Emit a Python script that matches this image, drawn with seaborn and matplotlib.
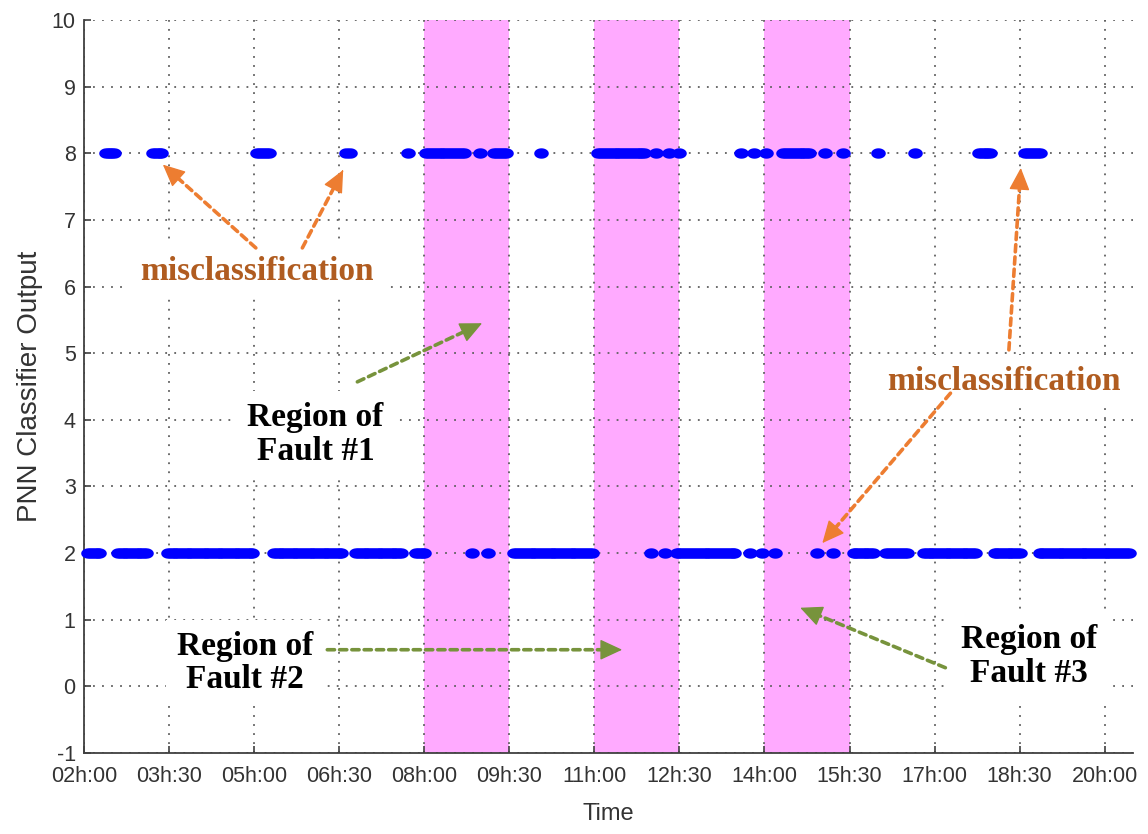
import numpy as np
import pandas as pd
import matplotlib
matplotlib.use("Agg")
import matplotlib.pyplot as plt
from matplotlib import font_manager
import seaborn as sns

# ---- data -------------------------------------------------------------
# sampling interval of the classifier output (hours)
SAMPLE_STEP = 0.05

# runs of consecutive samples (start hour, end hour) for each classifier output
runs_class8 = [(2.39, 2.53), (3.22, 3.36), (5.05, 5.27), (6.62, 6.69), (7.71, 7.71),
               (8.03, 8.70), (8.99, 8.99), (9.23, 9.45), (10.06, 10.06), (11.07, 11.88),
               (12.09, 12.09), (12.31, 12.31), (12.50, 12.50), (13.59, 13.59),
               (13.82, 13.82), (14.03, 14.03), (14.33, 14.79), (15.06, 15.06),
               (15.39, 15.39), (16.01, 16.01), (16.66, 16.66), (17.79, 17.97),
               (18.59, 18.85)]
runs_class2 = [(2.07, 2.27), (2.60, 3.09), (3.48, 4.97), (5.35, 6.54), (6.80, 7.59),
               (7.86, 8.00), (8.85, 8.85), (9.13, 9.13), (9.59, 10.95), (11.99, 11.99),
               (12.24, 12.24), (12.45, 13.47), (13.74, 13.74), (13.96, 13.96),
               (14.18, 14.18), (14.92, 14.92), (15.20, 15.20), (15.57, 15.91),
               (16.15, 16.52), (16.81, 17.71), (18.06, 18.50), (18.85, 20.42)]

# fault intervals (start hour, end hour)
fault_regions = [(8.0, 9.5), (11.0, 12.5), (14.0, 15.5)]

x_ticks = [2.0, 3.5, 5.0, 6.5, 8.0, 9.5, 11.0, 12.5, 14.0, 15.5, 17.0, 18.5, 20.0]
y_ticks = list(range(-1, 11))


def expand(runs, value):
    rows = []
    for start, end in runs:
        n = int(round((end - start) / SAMPLE_STEP)) + 1
        for t in np.linspace(start, end, n):
            rows.append((t, value))
    return rows


samples = pd.DataFrame(expand(runs_class8, 8) + expand(runs_class2, 2),
                       columns=["hour", "output"]).sort_values("hour")


def hour_label(h):
    hh = int(h)
    mm = int(round((h - hh) * 60))
    return f"{hh:02d}h:{mm:02d}"


# ---- style ------------------------------------------------------------
sns.set_style("ticks")


def pick_font(names):
    for n in names:
        try:
            font_manager.findfont(n, fallback_to_default=False)
            return n
        except Exception:
            continue
    return "DejaVu Sans"


sans = pick_font(["Liberation Sans Narrow", "Liberation Sans", "DejaVu Sans"])
serif = pick_font(["Liberation Serif", "DejaVu Serif"])
plt.rcParams["font.family"] = [sans, "DejaVu Sans"]
plt.rcParams["axes.unicode_minus"] = False

fig = plt.figure(figsize=(11.48, 8.34), dpi=100)
ax = fig.add_axes([0.0732, 0.0971, 0.9138, 0.8789])

for a, b in fault_regions:
    ax.axvspan(a, b, color="#FFAAFF", lw=0, zorder=1)

theta = np.linspace(0, 2 * np.pi, 48)
ellipse = list(zip(1.4 * np.cos(theta), np.sin(theta)))

sns.scatterplot(data=samples, x="hour", y="output", marker=ellipse, s=110,
                color="#0000FF", linewidth=0, ax=ax, zorder=3, clip_on=False,
                legend=False)

ax.set_xlim(2.0, 20.5)
ax.set_ylim(-1, 10)
ax.set_xticks(x_ticks)
ax.set_xticklabels([hour_label(h) for h in x_ticks])
ax.set_yticks(y_ticks)

ax.set_axisbelow("line")
ax.grid(True, color="#606060", linestyle=(0, (1, 4)), linewidth=1.3)

for s in ["top", "right"]:
    ax.spines[s].set_visible(False)
for s in ["left", "bottom"]:
    ax.spines[s].set_color("#404040")
    ax.spines[s].set_linewidth(1.3)

ax.tick_params(direction="in", length=5, width=1.2, color="#404040",
               labelsize=15.5, labelcolor="#333333")
ax.tick_params(axis="x", pad=9)
ax.tick_params(axis="y", pad=6)
ax.set_xlabel("Time", fontsize=17, color="#333333", labelpad=12)
ax.set_ylabel("PNN Classifier Output", fontsize=20, color="#333333", labelpad=6)

# ---- annotations ------------------------------------------------------
orange_txt = "#B05C20"
orange_arrow = "#ED7D31"
green_arrow = "#77933C"
box = dict(facecolor="white", edgecolor="none", pad=8)
font_bold = dict(family=serif, fontweight="bold", fontsize=24)

ax.text(5.05, 6.22, "misclassification", color=orange_txt, ha="center",
        va="center", bbox=box, zorder=4, **font_bold)
ax.text(18.22, 4.57, "misclassification", color=orange_txt, ha="center",
        va="center", bbox=box, zorder=4, **font_bold)
ax.text(6.08, 3.78, "Region of\nFault #1", color="black", ha="center",
        va="center", linespacing=1.1, bbox=box, zorder=4, **font_bold)
ax.text(4.84, 0.35, "Region of\nFault #2", color="black", ha="center",
        va="center", linespacing=1.1, bbox=box, zorder=4, **font_bold)
ax.text(18.66, 0.45, "Region of\nFault #3", color="black", ha="center",
        va="center", linespacing=1.1, bbox=box, zorder=4, **font_bold)


def arrow(tail, tip, color):
    # dashed shaft
    ax.annotate("", xy=tip, xytext=tail,
                arrowprops=dict(arrowstyle="-", color=color, lw=2.6,
                                linestyle=(0, (2, 1.4)), shrinkA=0, shrinkB=9),
                zorder=5)
    # solid head at the tip
    back = (tip[0] - 0.02 * (tip[0] - tail[0]), tip[1] - 0.02 * (tip[1] - tail[1]))
    ax.annotate("", xy=tip, xytext=back,
                arrowprops=dict(arrowstyle="-|>,head_length=1.4,head_width=0.65",
                                color=color, lw=1, shrinkA=0, shrinkB=0),
                zorder=5)


arrow((5.03, 6.58), (3.39, 7.83), orange_arrow)
arrow((5.85, 6.58), (6.57, 7.75), orange_arrow)
arrow((18.31, 5.05), (18.52, 7.78), orange_arrow)
arrow((17.28, 4.40), (15.02, 2.15), orange_arrow)
arrow((6.82, 4.57), (9.02, 5.45), green_arrow)
arrow((6.29, 0.55), (11.49, 0.55), green_arrow)
arrow((17.19, 0.28), (14.63, 1.18), green_arrow)

fig.savefig("out.png", dpi=100)
